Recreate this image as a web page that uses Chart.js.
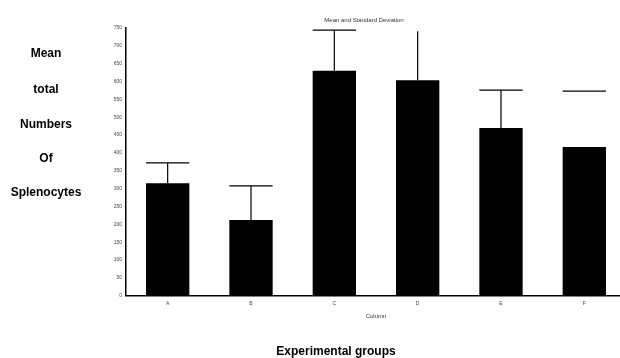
<!DOCTYPE html>
<html>
<head>
<meta charset="utf-8">
<script src="https://cdn.jsdelivr.net/npm/chart.js@4"></script>
<style>
  html, body { margin: 0; padding: 0; background: #fff; overflow: hidden; }
  #wrap { position: relative; width: 626px; height: 358px; }
  #chart { position: absolute; left: 0; top: 0; }
  .lbl { position: absolute; font-family: "Liberation Sans", Arial, sans-serif; font-weight: bold; color: #000; white-space: nowrap; transform: translate(-50%, -50%); font-size: 12px; }
  .side { left: 46px; }
  #title { position: absolute; left: 364px; top: 20px; transform: translate(-50%, -50%); font: 6px "Liberation Sans", Arial, sans-serif; color: #333; white-space: nowrap; }
</style>
</head>
<body>
<div id="wrap">
  <canvas id="chart" width="626" height="358"></canvas>
  <div id="title">Mean and Standard Deviation</div>
  <div class="lbl side" style="top:53px">Mean</div>
  <div class="lbl side" style="top:89px">total</div>
  <div class="lbl side" style="top:124px">Numbers</div>
  <div class="lbl side" style="top:158px">Of</div>
  <div class="lbl side" style="top:192px">Splenocytes</div>
  <div class="lbl" style="left:336px; top:351px">Experimental groups</div>
</div>
<script>
// Data
const groups = ['A', 'B', 'C', 'D', 'E', 'F'];
const means = [315, 212, 630, 604, 470, 417];
const upperErr = [372, 308, 744, 741, 576, 573];
const yTicks = [0, 50, 100, 150, 200, 250, 300, 350, 400, 450, 500, 550, 600, 650, 700, 750];

// Draws the standard deviation whiskers on top of the bars
const errorBarPlugin = {
  id: 'errorBars',
  afterDatasetsDraw(chart, args, opts) {
    const ctx = chart.ctx;
    const meta = chart.getDatasetMeta(0);
    const yScale = chart.scales.y;
    ctx.save();
    ctx.strokeStyle = opts.color;
    ctx.lineWidth = opts.lineWidth;
    meta.data.forEach((bar, i) => {
      const name = groups[i];
      const yTop = yScale.getPixelForValue(upperErr[i]);
      const half = bar.width / 2;
      ctx.beginPath();
      if (!opts.noStem.includes(name)) {
        ctx.moveTo(bar.x, bar.y);
        ctx.lineTo(bar.x, yTop);
      }
      if (!opts.noCap.includes(name)) {
        ctx.moveTo(bar.x - half, yTop);
        ctx.lineTo(bar.x + half, yTop);
      }
      ctx.stroke();
    });
    ctx.restore();
  }
};

const ctx = document.getElementById('chart').getContext('2d');
new Chart(ctx, {
  type: 'bar',
  data: {
    labels: groups,
    datasets: [{
      data: means,
      backgroundColor: '#000',
      borderWidth: 0,
      barPercentage: 0.52,
      categoryPercentage: 1
    }]
  },
  options: {
    responsive: false,
    animation: false,
    layout: { padding: { top: 28, right: 0, bottom: 38, left: 0 } },
    plugins: {
      legend: { display: false },
      tooltip: { enabled: false },
      errorBars: { color: '#000', lineWidth: 1.2, noCap: ['D'], noStem: ['F'] }
    },
    scales: {
      x: {
        grid: { display: false, drawTicks: false },
        border: { display: true, color: '#000', width: 1.5 },
        ticks: { font: { size: 5, family: 'Liberation Sans' }, color: '#444', padding: 5 },
        title: { display: true, text: 'Column', font: { size: 6, family: 'Liberation Sans' }, color: '#333', padding: { top: 1, bottom: 0 } }
      },
      y: {
        min: 0,
        max: 750,
        afterBuildTicks(scale) {
          scale.ticks = yTicks.map(v => ({ value: v }));
        },
        afterFit(scale) { scale.width = 126; },
        grid: { display: false, drawTicks: false },
        border: { display: true, color: '#000', width: 1.5 },
        ticks: { font: { size: 5, family: 'Liberation Sans' }, color: '#444', padding: 4 }
      }
    }
  },
  plugins: [errorBarPlugin]
});
</script>
</body>
</html>
